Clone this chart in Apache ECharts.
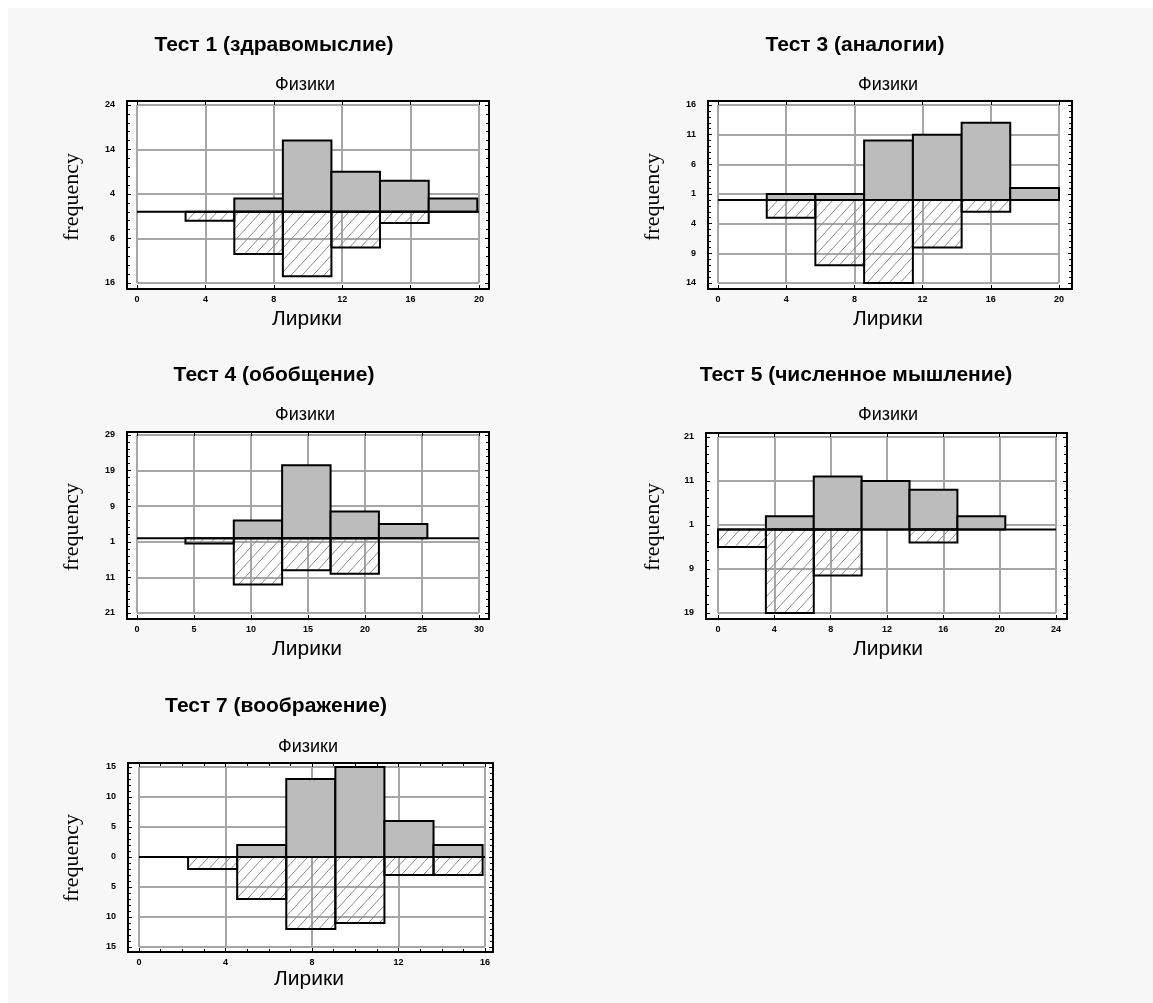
<!DOCTYPE html>
<html><head><meta charset="utf-8">
<script src="https://cdn.jsdelivr.net/npm/echarts@6/dist/echarts.min.js"></script>
<style>html,body{margin:0;padding:0;background:#fff;overflow:hidden}#c{position:absolute;left:8px;top:8px;width:1145px;height:995px}</style>
</head><body><div id="c"></div>
<script>
// ---------- DATA ----------
const titles = ['Тест 1 (здравомыслие)', 'Тест 3 (аналогии)', 'Тест 4 (обобщение)', 'Тест 5 (численное мышление)', 'Тест 7 (воображение)'];
const upperName = 'Физики';
const lowerName = 'Лирики';
const yName = 'frequency';

const t1Edges = [2.84, 5.69, 8.53, 11.37, 14.21, 17.06, 19.9];
const t1Phys = [0, 3, 16, 9, 7, 3];
const t1Lyr = [2, 9.5, 14.5, 8, 2.5, 0];
const t1XAxis = [0, 20, 4];
const t1YAxis = [-16, 24, 10];

const t3Edges = [2.86, 5.71, 8.57, 11.43, 14.29, 17.14, 20];
const t3Phys = [1, 1, 10, 11, 13, 2];
const t3Lyr = [3, 11, 14, 8, 2, 0];
const t3XAxis = [0, 20, 4];
const t3YAxis = [-14, 16, 5];

const t4Edges = [4.25, 8.49, 12.73, 16.98, 21.22, 25.47];
const t4Phys = [0, 5, 20.5, 7.5, 4];
const t4Lyr = [1.5, 13, 9, 10, 0];
const t4XAxis = [0, 30, 5];
const t4YAxis = [-21, 29, 10];

const t5Edges = [0, 3.4, 6.8, 10.2, 13.6, 17, 20.4];
const t5Phys = [0, 3, 12, 11, 9, 3];
const t5Lyr = [4, 19, 10.5, 0, 3, 0];
const t5XAxis = [0, 24, 4];
const t5YAxis = [-19, 21, 10];

const t7Edges = [2.27, 4.54, 6.81, 9.08, 11.35, 13.62, 15.89];
const t7Phys = [0, 2, 13, 15, 6, 2];
const t7Lyr = [2, 7, 12, 11, 3, 3];
const t7XAxis = [0, 16, 4];
const t7YAxis = [-15, 15, 5];

// ---------- LAYOUT (page pixels) ----------
const OX = 8, OY = 8;
const layout = [
  {frame: [127, 101, 489, 289], plot: [137, 105, 479, 283], title: [274, 45], sub: [305, 85], xname: [307, 319], yname: [72, 197], xMinor: 0},
  {frame: [708, 101, 1072, 289], plot: [718, 105, 1059, 283], title: [855, 45], sub: [888, 85], xname: [888, 319], yname: [653, 197], xMinor: 0},
  {frame: [127, 432, 489, 619], plot: [137, 435, 479, 613], title: [274, 375], sub: [305, 415], xname: [307, 649], yname: [72, 527], xMinor: 0},
  {frame: [706, 433, 1067, 619], plot: [718, 437, 1056, 613], title: [856, 375], sub: [888, 415], xname: [888, 649], yname: [653, 527], xMinor: 0},
  {frame: [128, 763, 493, 952], plot: [139, 767, 485, 947], title: [276, 706], sub: [308, 747], xname: [309, 979], yname: [72, 858], xMinor: 4}
];
const panelData = [
  [t1Edges, t1Phys, t1Lyr, t1XAxis, t1YAxis],
  [t3Edges, t3Phys, t3Lyr, t3XAxis, t3YAxis],
  [t4Edges, t4Phys, t4Lyr, t4XAxis, t4YAxis],
  [t5Edges, t5Phys, t5Lyr, t5XAxis, t5YAxis],
  [t7Edges, t7Phys, t7Lyr, t7XAxis, t7YAxis]
];

// hatch pattern
const hc = document.createElement('canvas');
const HW = 11, HH = 12;
hc.width = HW; hc.height = HH;
const g = hc.getContext('2d');
g.strokeStyle = '#8c8c8c'; g.lineWidth = 1;
g.beginPath();
for (const k of [-1, 0, 1]) { g.moveTo(k * HW, HH); g.lineTo((k + 1) * HW, 0); }
g.stroke();
const hatch = {image: hc, repeat: 'repeat'};

function barRenderer(fill) {
  return function (params, api) {
    const v = api.value(2);
    if (!v) return null;
    const p0 = api.coord([api.value(0), 0]);
    const p1 = api.coord([api.value(1), v]);
    return {
      type: 'rect',
      shape: {x: Math.min(p0[0], p1[0]), y: Math.min(p0[1], p1[1]), width: Math.abs(p1[0] - p0[0]), height: Math.abs(p1[1] - p0[1])},
      style: {fill: fill, stroke: '#000', lineWidth: 2}
    };
  };
}

const tickFont = {fontSize: 9, fontWeight: 'bold', color: '#000', fontFamily: 'Liberation Sans'};
const grids = [], xAxes = [], yAxes = [], series = [], graphics = [];
const tickStyle = {show: true, inside: true, length: 4, lineStyle: {color: '#000', width: 1}};

layout.forEach((L, i) => {
  const [edges, phys, lyr, xa, ya] = panelData[i];
  const [fL, fT, fR, fB] = L.frame;
  const [pL, pT, pR, pB] = L.plot;
  const fg = grids.length;
  grids.push({left: fL - OX, top: fT - OY, width: fR - fL, height: fB - fT, show: true, backgroundColor: '#fff', borderColor: '#000', borderWidth: 2, z: -1});
  xAxes.push({gridIndex: fg, type: 'value', show: false, min: 0, max: 1});
  yAxes.push({gridIndex: fg, type: 'value', show: false, min: 0, max: 1});
  const dg = grids.length;
  grids.push({left: pL - OX, top: pT - OY, width: pR - pL, height: pB - pT});
  const xb = xAxes.length;
  xAxes.push({
    gridIndex: dg, type: 'value', position: 'bottom', min: xa[0], max: xa[1], interval: xa[2], offset: fB - pB,
    axisLine: {show: false, onZero: false},
    axisTick: tickStyle,
    minorTick: {show: L.xMinor > 0, splitNumber: L.xMinor || 5, length: 3, lineStyle: {color: '#000', width: 1}},
    axisLabel: Object.assign({margin: 6}, tickFont),
    splitLine: {show: true, lineStyle: {color: '#a6a6a6', width: 2}}
  });
  xAxes.push({
    gridIndex: dg, type: 'value', position: 'top', min: xa[0], max: xa[1], interval: xa[2], offset: pT - fT,
    axisLine: {show: false, onZero: false},
    axisTick: tickStyle,
    minorTick: {show: L.xMinor > 0, splitNumber: L.xMinor || 5, length: 3, lineStyle: {color: '#000', width: 1}},
    axisLabel: {show: false}, splitLine: {show: false}
  });
  const yl = yAxes.length;
  yAxes.push({
    gridIndex: dg, type: 'value', position: 'left', min: ya[0], max: ya[1], interval: ya[2], offset: pL - fL,
    axisLine: {show: false, onZero: false},
    axisTick: tickStyle,
    minorTick: {show: true, splitNumber: 5, length: 3, lineStyle: {color: '#000', width: 1}},
    axisLabel: Object.assign({margin: 12, formatter: v => String(Math.abs(v))}, tickFont),
    splitLine: {show: true, lineStyle: {color: '#a6a6a6', width: 2}}
  });
  yAxes.push({
    gridIndex: dg, type: 'value', position: 'right', min: ya[0], max: ya[1], interval: ya[2], offset: fR - pR,
    axisLine: {show: false, onZero: false},
    axisTick: tickStyle,
    minorTick: {show: true, splitNumber: 5, length: 3, lineStyle: {color: '#000', width: 1}},
    axisLabel: {show: false}, splitLine: {show: false}
  });
  const up = phys.map((v, k) => [edges[k], edges[k + 1], v]);
  const lo = lyr.map((v, k) => [edges[k], edges[k + 1], -v]);
  series.push({type: 'custom', xAxisIndex: xb, yAxisIndex: yl, renderItem: barRenderer('#bcbcbc'), data: up, encode: {x: [0, 1], y: 2}, z: 2, silent: true});
  series.push({type: 'custom', xAxisIndex: xb, yAxisIndex: yl, renderItem: barRenderer(hatch), data: lo, encode: {x: [0, 1], y: 2}, z: 2, silent: true});
  series.push({type: 'line', xAxisIndex: xb, yAxisIndex: yl, data: [[xa[0], 0], [xa[1], 0]], symbol: 'none', lineStyle: {color: '#000', width: 2}, z: 3, silent: true});

  graphics.push({type: 'text', x: L.title[0] - OX, y: L.title[1] - OY, style: {text: titles[i], font: 'bold 21px "Liberation Sans"', fill: '#000', textAlign: 'center', textVerticalAlign: 'middle'}});
  graphics.push({type: 'text', x: L.sub[0] - OX, y: L.sub[1] - OY, style: {text: upperName, font: '18px "Liberation Sans"', fill: '#000', textAlign: 'center', textVerticalAlign: 'middle'}});
  graphics.push({type: 'text', x: L.xname[0] - OX, y: L.xname[1] - OY, style: {text: lowerName, font: '21px "Liberation Sans"', fill: '#000', textAlign: 'center', textVerticalAlign: 'middle'}});
  graphics.push({type: 'text', x: L.yname[0] - OX, y: L.yname[1] - OY, rotation: Math.PI / 2, style: {text: yName, font: '22px "Liberation Serif"', fill: '#000', textAlign: 'center', textVerticalAlign: 'middle'}});
});

const chart = echarts.init(document.getElementById('c'), null, {renderer: 'canvas'});
chart.setOption({
  backgroundColor: '#f7f7f7',
  animation: false,
  grid: grids, xAxis: xAxes, yAxis: yAxes, series: series,
  graphic: graphics
});
</script></body></html>
